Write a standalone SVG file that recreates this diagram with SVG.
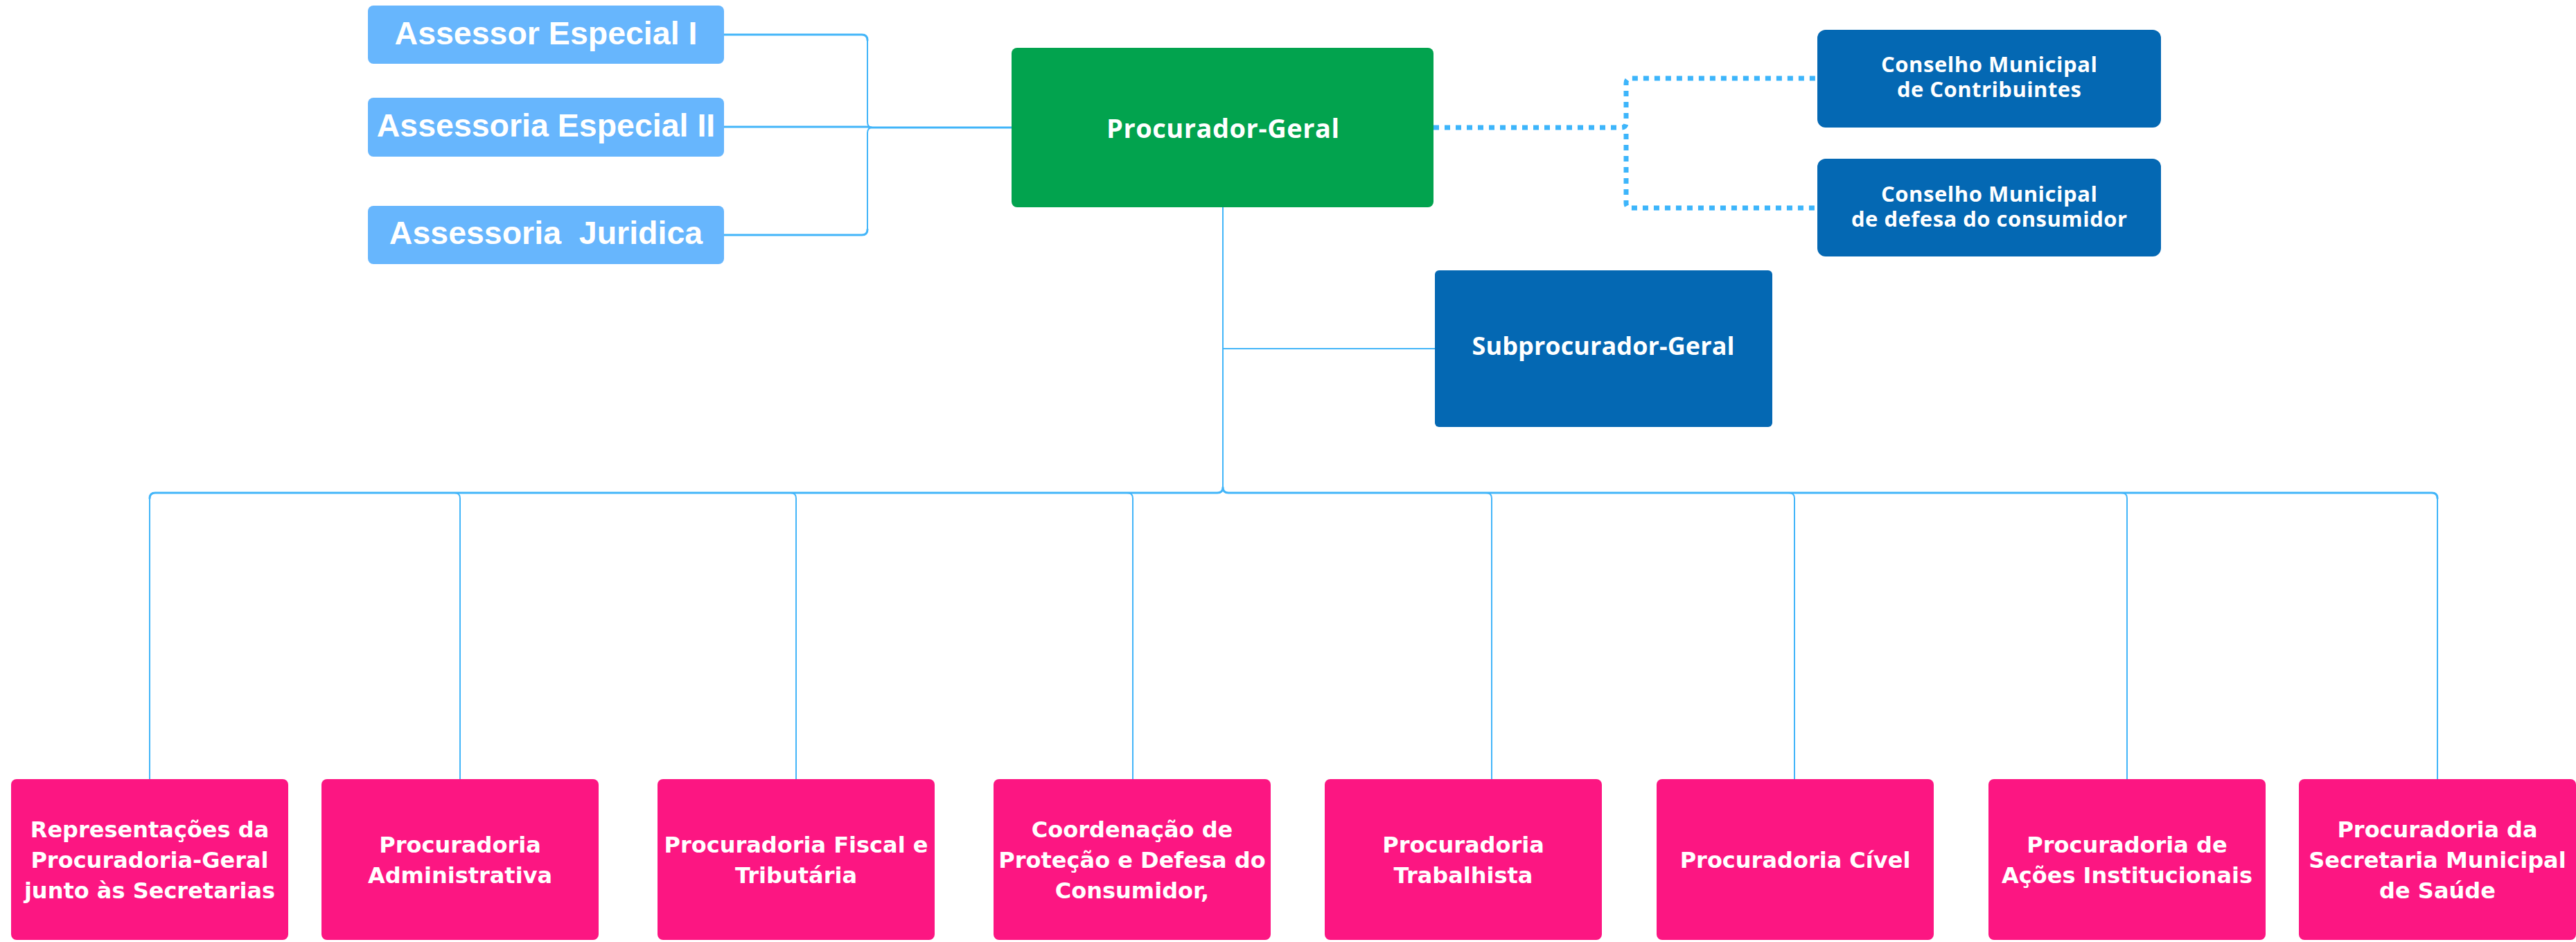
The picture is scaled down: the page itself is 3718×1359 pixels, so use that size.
<svg xmlns="http://www.w3.org/2000/svg" width="3718" height="1359" viewBox="0 0 3718 1359">
<style>
.bg{fill:#ffffff}
.lb{fill:#67b6fd}
.gr{fill:#02a34e}
.nv{fill:#0468b3}
.pk{fill:#fc1682}
.t{fill:#ffffff;text-anchor:middle;font-weight:bold}
.ta{font-family:"Liberation Sans",Arial,sans-serif;font-size:46.5px}
.tl{font-family:"Open Sans",Lato,sans-serif}
.tp{font-family:"DejaVu Sans",Verdana,sans-serif;font-size:32px}
.c{fill:none;stroke:#42b5f9;stroke-linecap:round;stroke-linejoin:round}
.h{stroke-width:3}
.v{stroke-width:2}
.d{fill:none;stroke:#3db5fb;stroke-width:7;stroke-dasharray:8 8}
</style>
<rect class="bg" x="0" y="0" width="3718" height="1359"/>
<g id="connectors">
<path class="c h" d="M1045,50 H1244 Q1252,50 1252,58"/>
<path class="c v" d="M1252,58 V176 Q1252,184 1259,184"/>
<path class="c h" d="M1045,339 H1244 Q1252,339 1252,331"/>
<path class="c v" d="M1252,331 V192 Q1252,184 1259,184"/>
<path class="c h" d="M1045,183 L1252,183 L1259,184 H1460"/>
<path class="d" d="M2069,184 H2340 Q2347,184 2347,177 V120 Q2347,113 2354,113 H2623"/>
<path class="d" d="M2347,193 V293 Q2347,300 2354,300 H2623"/>
<path class="c v" d="M1765,299 V703"/>
<path class="c v" d="M1765,503 H2071"/>
<path class="c h" d="M216,719 Q216,711 224,711 H1757 Q1765,711 1765,703 Q1765,711 1773,711 H3510 Q3518,711 3518,719"/>
<path class="c v" d="M216,719 V1124"/>
<path class="c v" d="M656,711 Q664,711 664,719 V1124"/>
<path class="c v" d="M1141,711 Q1149,711 1149,719 V1124"/>
<path class="c v" d="M1627,711 Q1635,711 1635,719 V1124"/>
<path class="c v" d="M2145,711 Q2153,711 2153,719 V1124"/>
<path class="c v" d="M2582,711 Q2590,711 2590,719 V1124"/>
<path class="c v" d="M3062,711 Q3070,711 3070,719 V1124"/>
<path class="c v" d="M3518,719 V1124"/>
</g>
<g id="assessor-especial-i">
<rect class="lb" x="531" y="8" width="514" height="84" rx="8"/>
<text class="t ta" x="788" y="64">Assessor Especial I</text>
</g>
<g id="assessoria-especial-ii">
<rect class="lb" x="531" y="141" width="514" height="85" rx="8"/>
<text class="t ta" x="788" y="197">Assessoria Especial II</text>
</g>
<g id="assessoria-juridica">
<rect class="lb" x="531" y="297" width="514" height="84" rx="8"/>
<text class="t ta" x="788" y="352" xml:space="preserve">Assessoria  Juridica</text>
</g>
<g id="procurador-geral">
<rect class="gr" x="1460" y="69" width="609" height="230" rx="8"/>
<text class="t tl" x="1765" y="199" font-size="38" textLength="336">Procurador-Geral</text>
</g>
<g id="conselho-contribuintes">
<rect class="nv" x="2623" y="43" width="496" height="141" rx="12"/>
<text class="t tl" x="2871" y="104" font-size="31" textLength="312">Conselho Municipal</text>
<text class="t tl" x="2871" y="140" font-size="31" textLength="266">de Contribuintes</text>
</g>
<g id="conselho-consumidor">
<rect class="nv" x="2623" y="229" width="496" height="141" rx="12"/>
<text class="t tl" x="2871" y="291" font-size="31" textLength="312">Conselho Municipal</text>
<text class="t tl" x="2871" y="327" font-size="31" textLength="398">de defesa do consumidor</text>
</g>
<g id="subprocurador-geral">
<rect class="nv" x="2071" y="390" width="487" height="226" rx="6"/>
<text class="t tl" x="2314" y="512" font-size="36" textLength="379">Subprocurador-Geral</text>
</g>
<g id="representacoes">
<rect class="pk" x="16" y="1124" width="400" height="232" rx="8"/>
<text class="t tp" x="216" y="1208">Representações da</text>
<text class="t tp" x="216" y="1252">Procuradoria-Geral</text>
<text class="t tp" x="216" y="1296">junto às Secretarias</text>
</g>
<g id="procuradoria-administrativa">
<rect class="pk" x="464" y="1124" width="400" height="232" rx="8"/>
<text class="t tp" x="664" y="1230">Procuradoria</text>
<text class="t tp" x="664" y="1274">Administrativa</text>
</g>
<g id="procuradoria-fiscal">
<rect class="pk" x="949" y="1124" width="400" height="232" rx="8"/>
<text class="t tp" x="1149" y="1230">Procuradoria Fiscal e</text>
<text class="t tp" x="1149" y="1274">Tributária</text>
</g>
<g id="coordenacao-consumidor">
<rect class="pk" x="1434" y="1124" width="400" height="232" rx="8"/>
<text class="t tp" x="1634" y="1208">Coordenação de</text>
<text class="t tp" x="1634" y="1252">Proteção e Defesa do</text>
<text class="t tp" x="1634" y="1296">Consumidor,</text>
</g>
<g id="procuradoria-trabalhista">
<rect class="pk" x="1912" y="1124" width="400" height="232" rx="8"/>
<text class="t tp" x="2112" y="1230">Procuradoria</text>
<text class="t tp" x="2112" y="1274">Trabalhista</text>
</g>
<g id="procuradoria-civel">
<rect class="pk" x="2391" y="1124" width="400" height="232" rx="8"/>
<text class="t tp" x="2591" y="1252">Procuradoria Cível</text>
</g>
<g id="procuradoria-acoes">
<rect class="pk" x="2870" y="1124" width="400" height="232" rx="8"/>
<text class="t tp" x="3070" y="1230">Procuradoria de</text>
<text class="t tp" x="3070" y="1274">Ações Institucionais</text>
</g>
<g id="procuradoria-saude">
<rect class="pk" x="3318" y="1124" width="400" height="232" rx="8"/>
<text class="t tp" x="3518" y="1208">Procuradoria da</text>
<text class="t tp" x="3518" y="1252">Secretaria Municipal</text>
<text class="t tp" x="3518" y="1296">de Saúde</text>
</g>
</svg>
